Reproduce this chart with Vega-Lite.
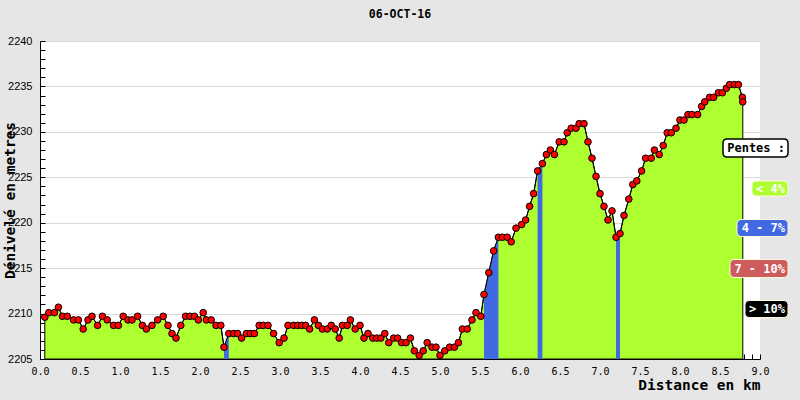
{
  "$schema": "https://vega.github.io/schema/vega-lite/v6.json",
  "width": 720,
  "height": 318,
  "autosize": "none",
  "padding": {"left": 40, "top": 41, "right": 40, "bottom": 41},
  "background": "#e6e6e6",
  "view": {"fill": "white", "stroke": null},
  "title": {"text": "06-OCT-16", "font": "DejaVu Sans Mono", "fontWeight": "bold", "fontSize": 11.5, "color": "black", "offset": 15, "anchor": "middle"},
  "data": {"values": [
    {"km": 0.06, "alt": 2209.6}, {"km": 0.11, "alt": 2210.1}, {"km": 0.18, "alt": 2210.1}, {"km": 0.23, "alt": 2210.7},
    {"km": 0.28, "alt": 2209.7}, {"km": 0.34, "alt": 2209.7}, {"km": 0.42, "alt": 2209.3}, {"km": 0.48, "alt": 2209.3},
    {"km": 0.54, "alt": 2208.3}, {"km": 0.60, "alt": 2209.3}, {"km": 0.65, "alt": 2209.7}, {"km": 0.72, "alt": 2208.7},
    {"km": 0.78, "alt": 2209.7}, {"km": 0.84, "alt": 2209.3}, {"km": 0.92, "alt": 2208.7}, {"km": 0.98, "alt": 2208.7},
    {"km": 1.04, "alt": 2209.7}, {"km": 1.10, "alt": 2209.3}, {"km": 1.15, "alt": 2209.3}, {"km": 1.22, "alt": 2209.7},
    {"km": 1.28, "alt": 2208.7}, {"km": 1.33, "alt": 2208.3}, {"km": 1.40, "alt": 2208.7}, {"km": 1.47, "alt": 2209.3},
    {"km": 1.54, "alt": 2209.7}, {"km": 1.60, "alt": 2208.7}, {"km": 1.65, "alt": 2207.8}, {"km": 1.70, "alt": 2207.3},
    {"km": 1.76, "alt": 2208.7}, {"km": 1.82, "alt": 2209.7}, {"km": 1.875, "alt": 2209.7}, {"km": 1.93, "alt": 2209.7},
    {"km": 1.98, "alt": 2209.3}, {"km": 2.04, "alt": 2210.1}, {"km": 2.08, "alt": 2209.3}, {"km": 2.14, "alt": 2209.3},
    {"km": 2.20, "alt": 2208.7}, {"km": 2.26, "alt": 2208.7},
    {"km": 2.30, "alt": 2206.3, "seg": 1}, {"km": 2.36, "alt": 2207.8, "seg": 1},
    {"km": 2.42, "alt": 2207.8}, {"km": 2.47, "alt": 2207.8}, {"km": 2.52, "alt": 2207.3}, {"km": 2.58, "alt": 2207.8},
    {"km": 2.63, "alt": 2207.8}, {"km": 2.68, "alt": 2207.8}, {"km": 2.74, "alt": 2208.7}, {"km": 2.79, "alt": 2208.7},
    {"km": 2.85, "alt": 2208.7}, {"km": 2.92, "alt": 2207.8}, {"km": 2.99, "alt": 2206.8}, {"km": 3.05, "alt": 2207.3},
    {"km": 3.10, "alt": 2208.7}, {"km": 3.17, "alt": 2208.7}, {"km": 3.22, "alt": 2208.7}, {"km": 3.27, "alt": 2208.7},
    {"km": 3.32, "alt": 2208.7}, {"km": 3.37, "alt": 2208.3}, {"km": 3.43, "alt": 2209.3}, {"km": 3.48, "alt": 2208.7},
    {"km": 3.53, "alt": 2208.3}, {"km": 3.59, "alt": 2208.3}, {"km": 3.64, "alt": 2208.7}, {"km": 3.69, "alt": 2208.3},
    {"km": 3.74, "alt": 2207.3}, {"km": 3.78, "alt": 2208.7}, {"km": 3.84, "alt": 2208.7}, {"km": 3.88, "alt": 2209.3},
    {"km": 3.94, "alt": 2208.3}, {"km": 4.00, "alt": 2208.7}, {"km": 4.05, "alt": 2207.3}, {"km": 4.10, "alt": 2207.8},
    {"km": 4.16, "alt": 2207.3}, {"km": 4.21, "alt": 2207.3}, {"km": 4.26, "alt": 2207.3}, {"km": 4.31, "alt": 2207.8},
    {"km": 4.36, "alt": 2206.8}, {"km": 4.42, "alt": 2207.3}, {"km": 4.47, "alt": 2207.3}, {"km": 4.52, "alt": 2206.8},
    {"km": 4.575, "alt": 2206.8}, {"km": 4.63, "alt": 2207.3}, {"km": 4.68, "alt": 2205.9}, {"km": 4.74, "alt": 2205.4},
    {"km": 4.79, "alt": 2205.9}, {"km": 4.84, "alt": 2206.8}, {"km": 4.90, "alt": 2206.3}, {"km": 4.95, "alt": 2206.3},
    {"km": 5.00, "alt": 2205.4}, {"km": 5.06, "alt": 2205.9}, {"km": 5.12, "alt": 2206.3}, {"km": 5.18, "alt": 2206.3},
    {"km": 5.23, "alt": 2206.8}, {"km": 5.28, "alt": 2208.3}, {"km": 5.34, "alt": 2208.3}, {"km": 5.40, "alt": 2209.3},
    {"km": 5.45, "alt": 2210.1}, {"km": 5.51, "alt": 2209.7},
    {"km": 5.55, "alt": 2212.1, "seg": 2}, {"km": 5.61, "alt": 2214.5, "seg": 2}, {"km": 5.67, "alt": 2216.9, "seg": 2}, {"km": 5.73, "alt": 2218.4, "seg": 2},
    {"km": 5.78, "alt": 2218.4}, {"km": 5.84, "alt": 2218.4}, {"km": 5.89, "alt": 2217.9}, {"km": 5.95, "alt": 2219.4},
    {"km": 6.02, "alt": 2219.8}, {"km": 6.07, "alt": 2220.3}, {"km": 6.12, "alt": 2221.8}, {"km": 6.17, "alt": 2223.2},
    {"km": 6.22, "alt": 2225.7, "seg": 3}, {"km": 6.28, "alt": 2226.5, "seg": 3},
    {"km": 6.33, "alt": 2227.5}, {"km": 6.38, "alt": 2228.0}, {"km": 6.43, "alt": 2227.5}, {"km": 6.49, "alt": 2228.9},
    {"km": 6.55, "alt": 2228.9}, {"km": 6.59, "alt": 2229.9}, {"km": 6.64, "alt": 2230.4}, {"km": 6.70, "alt": 2230.4},
    {"km": 6.74, "alt": 2230.9}, {"km": 6.80, "alt": 2230.9}, {"km": 6.85, "alt": 2228.9}, {"km": 6.90, "alt": 2227.1},
    {"km": 6.95, "alt": 2225.1}, {"km": 7.00, "alt": 2223.2}, {"km": 7.05, "alt": 2221.8}, {"km": 7.10, "alt": 2220.3},
    {"km": 7.15, "alt": 2221.3},
    {"km": 7.20, "alt": 2218.4, "seg": 4}, {"km": 7.25, "alt": 2218.8, "seg": 4},
    {"km": 7.30, "alt": 2220.8}, {"km": 7.36, "alt": 2222.6}, {"km": 7.41, "alt": 2224.2}, {"km": 7.46, "alt": 2224.6},
    {"km": 7.52, "alt": 2225.7}, {"km": 7.57, "alt": 2227.1}, {"km": 7.64, "alt": 2227.1}, {"km": 7.68, "alt": 2228.0},
    {"km": 7.74, "alt": 2227.5}, {"km": 7.79, "alt": 2228.5}, {"km": 7.84, "alt": 2229.9}, {"km": 7.89, "alt": 2229.9},
    {"km": 7.95, "alt": 2230.4}, {"km": 8.00, "alt": 2231.3}, {"km": 8.05, "alt": 2231.3}, {"km": 8.10, "alt": 2231.9},
    {"km": 8.15, "alt": 2231.9}, {"km": 8.22, "alt": 2231.9}, {"km": 8.27, "alt": 2232.8}, {"km": 8.31, "alt": 2233.3},
    {"km": 8.37, "alt": 2233.8}, {"km": 8.42, "alt": 2233.8}, {"km": 8.48, "alt": 2234.3}, {"km": 8.53, "alt": 2234.3},
    {"km": 8.58, "alt": 2234.8}, {"km": 8.62, "alt": 2235.2}, {"km": 8.68, "alt": 2235.2}, {"km": 8.73, "alt": 2235.2},
    {"km": 8.78, "alt": 2233.8}, {"km": 8.785, "alt": 2233.3}
  ]},
  "encoding": {
    "x": {
      "field": "km", "type": "quantitative",
      "scale": {"domain": [0, 9], "nice": false, "zero": false},
      "axis": {
        "values": [0,0.1,0.2,0.3,0.4,0.5,0.6,0.7,0.8,0.9,1,1.1,1.2,1.3,1.4,1.5,1.6,1.7,1.8,1.9,2,2.1,2.2,2.3,2.4,2.5,2.6,2.7,2.8,2.9,3,3.1,3.2,3.3,3.4,3.5,3.6,3.7,3.8,3.9,4,4.1,4.2,4.3,4.4,4.5,4.6,4.7,4.8,4.9,5,5.1,5.2,5.3,5.4,5.5,5.6,5.7,5.8,5.9,6,6.1,6.2,6.3,6.4,6.5,6.6,6.7,6.8,6.9,7,7.1,7.2,7.3,7.4,7.5,7.6,7.7,7.8,7.9,8,8.1,8.2,8.3,8.4,8.5,8.6,8.7,8.8,8.9,9],
        "labelExpr": "abs(datum.value * 2 - round(datum.value * 2)) < 0.001 ? format(datum.value, '.1f') : ''",
        "grid": false,
        "tickSize": -5,
        "tickColor": "black",
        "domainColor": "black",
        "labelFont": "DejaVu Sans Mono",
        "labelFontSize": 10,
        "labelColor": "black",
        "labelPadding": 12,
        "labelFlush": false,
        "labelOverlap": false,
        "title": "Distance en km",
        "titleFont": "DejaVu Sans Mono",
        "titleFontWeight": "bold",
        "titleFontSize": 14.5,
        "titleColor": "black",
        "titleAnchor": "end",
        "titlePadding": 2
      }
    },
    "y": {
      "field": "alt", "type": "quantitative", "stack": null,
      "scale": {"domain": [2205, 2240], "nice": false, "zero": false},
      "axis": {
        "values": [2205,2206,2207,2208,2209,2210,2211,2212,2213,2214,2215,2216,2217,2218,2219,2220,2221,2222,2223,2224,2225,2226,2227,2228,2229,2230,2231,2232,2233,2234,2235,2236,2237,2238,2239,2240],
        "labelExpr": "datum.value % 5 === 0 ? format(datum.value, 'd') : ''",
        "grid": true,
        "gridColor": "#d9d9d9",
        "gridOpacity": {"condition": {"test": "datum.value % 5 === 0 && datum.value > 2205", "value": 1}, "value": 0},
        "tickSize": -5,
        "tickColor": "black",
        "domainColor": "black",
        "labelFont": "Liberation Sans",
        "labelFontSize": 11,
        "labelColor": "black",
        "labelPadding": 13,
        "labelFlush": false,
        "labelOverlap": false,
        "title": "Dénivelé en metres",
        "titleFont": "DejaVu Sans Mono",
        "titleFontWeight": "bold",
        "titleFontSize": 14.5,
        "titleColor": "black",
        "titleX": -30,
        "titleY": 159,
        "titleAlign": "center",
        "titleBaseline": "middle",
        "titleAngle": -90
      }
    }
  },
  "layer": [
    {
      "mark": {"type": "area", "stroke": "black", "strokeWidth": 1, "opacity": 1},
      "encoding": {
        "y2": {"datum": 2205},
        "color": {
          "datum": "< 4%", "type": "nominal",
          "scale": {"domain": ["Pentes :", "< 4%", "4 - 7%", "7 - 10%", "> 10%"], "range": ["white", "#adff2f", "#4169e1", "#cd5c5c", "black"]},
          "legend": {
            "orient": "none", "legendX": 714, "legendY": 101, "title": null, "padding": 0,
            "symbolSize": 400, "symbolOpacity": 1,
            "symbolType": {"expr": "datum.value === 'Pentes :' ? 'M-3.3,-0.9H2.4Q2.8,-0.9,2.8,-0.5V0.5Q2.8,0.9,2.4,0.9H-3.3Q-3.7,0.9,-3.7,0.5V-0.5Q-3.7,-0.9,-3.3,-0.9Z' : datum.value === '< 4%' ? 'M-0.4,-0.75H2.4Q2.8,-0.75,2.8,-0.35V0.35Q2.8,0.75,2.4,0.75H-0.4Q-0.8,0.75,-0.8,0.35V-0.35Q-0.8,-0.75,-0.4,-0.75Z' : datum.value === '4 - 7%' ? 'M-1.9,-0.85H2.4Q2.8,-0.85,2.8,-0.45V0.45Q2.8,0.85,2.4,0.85H-1.9Q-2.3,0.85,-2.3,0.45V-0.45Q-2.3,-0.85,-1.9,-0.85Z' : datum.value === '7 - 10%' ? 'M-2.6,-0.9H2.4Q2.8,-0.9,2.8,-0.5V0.5Q2.8,0.9,2.4,0.9H-2.6Q-3,0.9,-3,0.5V-0.5Q-3,-0.9,-2.6,-0.9Z' : 'M-1.1,-0.85H2.4Q2.8,-0.85,2.8,-0.45V0.45Q2.8,0.85,2.4,0.85H-1.1Q-1.5,0.85,-1.5,0.45V-0.45Q-1.5,-0.85,-1.1,-0.85Z'"},
            "symbolStrokeColor": {"expr": "datum.value === 'Pentes :' ? 'black' : '#fff8dc'"},
            "symbolStrokeWidth": {"expr": "datum.value === 'Pentes :' ? 1.5 : 1"},
            "rowPadding": 18.5,
            "labelFont": "DejaVu Sans Mono", "labelFontWeight": "bold", "labelFontSize": 12,
            "labelAlign": "right", "labelOffset": 19, "labelLimit": 0,
            "labelColor": {"expr": "datum.value === 'Pentes :' ? 'black' : 'white'"}
          }
        }
      }
    },
    {
      "transform": [{"filter": "isValid(datum.seg)"}],
      "mark": {"type": "area", "opacity": 1, "color": "#4169e1"},
      "encoding": {
        "y2": {"datum": 2205},
        "detail": {"field": "seg", "type": "nominal"}
      }
    },
    {
      "mark": {"type": "line", "color": "black", "strokeWidth": 1}
    },
    {
      "mark": {"type": "point", "shape": "circle", "filled": true, "fill": "red", "stroke": "black", "strokeWidth": 1, "size": 44, "opacity": 1}
    }
  ]
}
